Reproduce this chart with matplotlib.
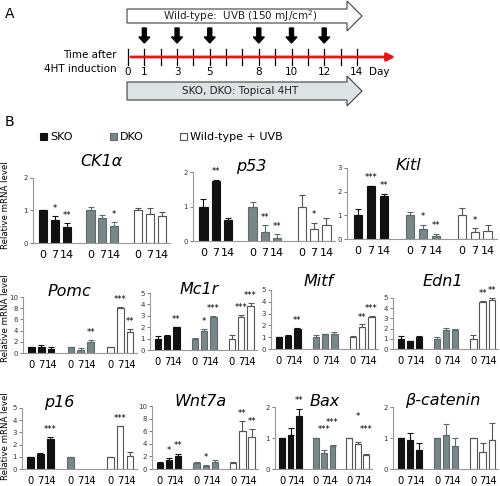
import numpy as np
import matplotlib
matplotlib.use("Agg")
import matplotlib.pyplot as plt
from matplotlib.patches import Polygon, FancyArrow, Rectangle

# ---- data (means, upper error, significance) ----
genes = ['CK1α', 'p53', 'Kitl', 'Pomc', 'Mc1r', 'Mitf', 'Edn1',
         'p16', 'Wnt7a', 'Bax', 'β-catenin']
ymax = [2, 2, 3, 10, 5, 5, 5, 5, 10, 2, 2]
yticks_step = [1, 1, 1, 2, 1, 1, 1, 1, 2, 1, 1]

nan = np.nan
sko_mean = [[1.0, 0.72, 0.48], [1.0, 1.75, 0.60], [1.0, 2.22, 1.83],
            [1.0, 1.10, 0.75], [1.0, 1.25, 2.00], [1.0, 1.10, 1.70],
            [1.0, 0.80, 1.20], [1.0, 1.25, 2.45], [1.0, 1.50, 2.10],
            [1.0, 1.10, 1.70], [1.0, 0.95, 0.60]]
sko_err = [[0.03, 0.10, 0.12], [0.23, 0.02, 0.08], [0.25, 0.03, 0.08],
           [0.10, 0.30, 0.30], [0.25, 0.05, 0.05], [0.05, 0.08, 0.12],
           [0.25, 0.03, 0.05], [0.02, 0.05, 0.20], [0.05, 0.20, 0.35],
           [0.01, 0.23, 0.25], [0.01, 0.20, 0.23]]
sko_sig = [['', '*', '**'], ['', '**', ''], ['', '***', '**'],
           ['', '', ''], ['', '', '**'], ['', '', '**'],
           ['', '', ''], ['', '', '***'], ['', '*', '**'],
           ['', '', '**'], ['', '', '']]

dko_mean = [[1.0, 0.76, 0.52], [1.0, 0.25, 0.08], [1.0, 0.42, 0.12],
            [1.0, 0.60, 2.00], [1.0, 1.70, 2.90], [1.0, 1.25, 1.30],
            [1.0, 1.90, 1.90], [1.0, nan, nan], [1.0, 0.45, 1.10],
            [1.0, 0.53, 0.75], [1.0, 1.10, 0.75]]
dko_err = [[0.12, 0.10, 0.12], [0.13, 0.20, 0.12], [0.12, 0.18, 0.10],
           [0.05, 0.30, 0.30], [0.08, 0.18, 0.10], [0.15, 0.05, 0.10],
           [0.15, 0.20, 0.08], [0.02, 0, 0], [0.05, 0.15, 0.30],
           [0.01, 0.08, 0.01], [0.01, 0.35, 0.25]]
dko_sig = [['', '', '*'], ['', '**', '**'], ['', '*', '**'],
           ['', '', '**'], ['', '*', '***'], ['', '', ''],
           ['', '', ''], ['', '', ''], ['', '*', ''],
           ['', '***', '***'], ['', '', '']]

wt_mean = [[1.0, 0.88, 0.84], [1.0, 0.35, 0.45], [1.0, 0.30, 0.35],
           [1.0, 8.00, 3.80], [1.0, 2.90, 3.90], [1.0, 1.90, 2.75],
           [1.0, 4.60, 4.80], [1.0, 3.50, 1.10], [1.0, 6.10, 5.10],
           [1.0, 0.80, 0.45], [1.0, 0.55, 0.95]]
wt_err = [[0.08, 0.20, 0.12], [0.33, 0.18, 0.23], [0.33, 0.15, 0.25],
          [0.05, 0.30, 0.50], [0.35, 0.15, 0.25], [0.08, 0.18, 0.08],
          [0.35, 0.15, 0.20], [0.02, 0.05, 0.30], [0.05, 1.50, 1.30],
          [0.01, 0.07, 0.05], [0.01, 0.28, 0.55]]
wt_sig = [['', '', ''], ['', '*', ''], ['', '*', ''],
          ['', '***', '**'], ['', '***', '***'], ['', '**', '***'],
          ['', '**', '**'], ['', '***', ''], ['', '**', '**'],
          ['', '*', '***'], ['', '', '']]

# star heights, where they sit well above the bars
bax_star_y = [[None, None, None], [None, 1.12, 1.36], [None, 1.55, 1.12]]

days = ['0', '7', '14']
timeline_days = list(range(15))
labelled_days = [0, 1, 3, 5, 8, 10, 12, 14]
uvb_days = [1, 3, 5, 8, 10, 12]

# axes positions in pixels (x0, y_top, x1, y_bottom) and title centres
rects = [(33, 178, 170, 243), (193, 172, 335, 241), (347, 168, 497, 239),
         (23, 297, 137, 353), (150, 293, 257, 350), (271, 290, 378, 349),
         (393, 298, 498, 349),
         (22, 408, 137, 469), (152, 406, 258, 469), (275, 407, 372, 469),
         (393, 407, 498, 469)]
title_xy = [(101, 161), (251, 166), (408, 166),
            (69, 291), (199, 289), (319, 281), (443, 281),
            (59, 403), (201, 401), (325, 401), (443, 401)]

W, H = 500, 486
fig = plt.figure(figsize=(W / 100, H / 100), dpi=100)

colors = ['#111111', '#7a8788', 'white']
edges = ['#111111', '#5f6b6c', '#555555']

# ---- panel A ----
axa = fig.add_axes([0, 0, 1, 1])
axa.set_xlim(0, W)
axa.set_ylim(H, 0)
axa.axis('off')

x0d, dpx = 128, 16.35
top_arrow = Polygon([(127, 9), (347, 9), (347, 1), (362, 16), (347, 31),
                     (347, 23), (127, 23)], closed=True, fc='white',
                    ec='#404040', lw=0.8)
bot_arrow = Polygon([(127, 82), (347, 82), (347, 76), (362, 91), (347, 106),
                     (347, 100), (127, 100)], closed=True, fc='#dde2e5',
                    ec='#404040', lw=0.8)
axa.add_patch(top_arrow)
axa.add_patch(bot_arrow)
axa.text(240, 16, 'Wild-type:  UVB (150 mJ/cm$^2$)', ha='center', va='center',
         fontsize=7.5, color='#222222')
axa.text(240, 91, 'SKO, DKO: Topical 4HT', ha='center', va='center',
         fontsize=7.5, color='#222222')
for d in uvb_days:
    axa.add_patch(FancyArrow(x0d + d * dpx, 28, 0, 9, width=4, head_width=11,
                             head_length=6, length_includes_head=False,
                             fc='black', ec='black'))
axa.annotate('', xy=(398, 57), xytext=(x0d, 57),
             arrowprops=dict(arrowstyle='-|>', color='#e8141b', lw=2,
                             mutation_scale=12))
for d in timeline_days:
    axa.plot([x0d + d * dpx] * 2, [49, 65], color='black', lw=0.9)
for d in labelled_days:
    axa.text(x0d + d * dpx, 72, str(d), ha='center', va='center', fontsize=7.5)
axa.text(379, 72, 'Day', ha='center', va='center', fontsize=7.5)
axa.text(117, 62, 'Time after\n4HT induction', ha='right', va='center',
         fontsize=7.5, linespacing=1.4)
axa.text(5, 14, 'A', fontsize=10, va='center')
axa.text(5, 122, 'B', fontsize=10, va='center')

# legend
leg = [('SKO', 40), ('DKO', 110), ('Wild-type + UVB', 180)]
for i, (name, lx) in enumerate(leg):
    axa.add_patch(Rectangle((lx, 133), 7, 7, fc=colors[i], ec=edges[i], lw=0.8))
    axa.text(lx + 10, 137, name, va='center', fontsize=8)

# y labels per row
for yc in [205, 318, 436]:
    fig.text(5.5 / W, 1 - yc / H, 'Relative mRNA level', rotation=90,
             ha='center', va='center', fontsize=6.2)

# ---- panel B bar charts ----
pos = np.array([0, 1, 2])
for k, g in enumerate(genes):
    x0, yt, x1, yb = rects[k]
    ax = fig.add_axes([x0 / W, 1 - yb / H, (x1 - x0) / W, (yb - yt) / H])
    series = [(sko_mean[k], sko_err[k], sko_sig[k]),
              (dko_mean[k], dko_err[k], dko_sig[k]),
              (wt_mean[k], wt_err[k], wt_sig[k])]
    xt = []
    for s, (m, e, sig) in enumerate(series):
        xs = pos + 4 * s
        xt.extend(xs)
        m = np.array(m, dtype=float)
        e = np.array(e, dtype=float)
        ax.bar(xs, m, width=0.68, color=colors[s], edgecolor=edges[s], lw=0.8,
               yerr=[np.zeros(3), e], error_kw=dict(ecolor=edges[s], lw=0.8,
                                                    capsize=2, capthick=0.8))
        for j, (xi, mi, ei, st) in enumerate(zip(xs, m, e, sig)):
            if not st:
                continue
            ys = mi + ei + ymax[k] * 0.05
            if g == 'Bax' and bax_star_y[s][j] is not None:
                ys = bax_star_y[s][j]
            ax.text(xi, ys, st, ha='center', va='bottom', fontsize=6)
    ax.set_xlim(-0.85, 10.7)
    ax.set_ylim(0, ymax[k])
    ax.set_yticks(np.arange(0, ymax[k] + 0.01, yticks_step[k]))
    ax.set_xticks(xt)
    ax.set_xticklabels(days * 3, fontsize=8 if k < 3 else 7.2)
    ax.tick_params(axis='x', length=0, pad=5)
    ax.tick_params(axis='y', labelsize=5, length=2, width=0.6,
                   colors='#666666', labelcolor='#333333', pad=1.5)
    for sp in ['top', 'right']:
        ax.spines[sp].set_visible(False)
    for sp in ['left', 'bottom']:
        ax.spines[sp].set_color('#999999')
        ax.spines[sp].set_linewidth(0.8)
    ax.patch.set_alpha(0)
    tx, ty = title_xy[k]
    fig.text(tx / W, 1 - ty / H, g, ha='center', va='center',
             fontsize=11.5, style='italic')

fig.savefig('out.png', dpi=100)
